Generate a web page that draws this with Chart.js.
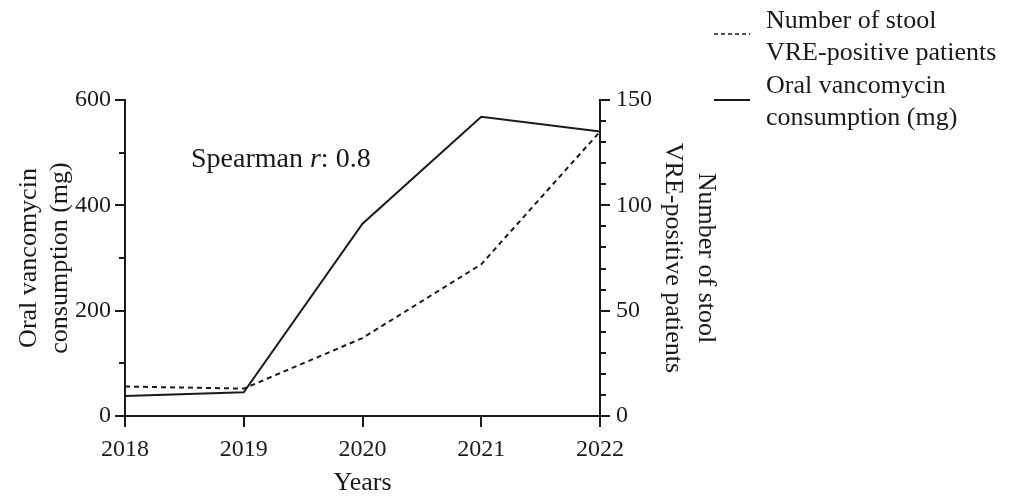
<!DOCTYPE html>
<html>
<head>
<meta charset="utf-8">
<script src="https://cdn.jsdelivr.net/npm/chart.js@4.4.1/dist/chart.umd.min.js"></script>
<style>
html,body{margin:0;padding:0;background:#fff;}
#wrap{width:1010px;height:498px;position:relative;}
</style>
</head>
<body>
<div id="wrap"><canvas id="c" width="1010" height="498"></canvas></div>
<script>
const years = ['2018', '2019', '2020', '2021', '2022'];
const vancomycinMg = [38, 45, 365, 568, 540];
const vrePatients = [14, 13, 37, 72, 135];
const leftTicks = [0, 200, 400, 600];
const rightTicks = [0, 50, 100, 150];
const leftMinorTicks = [100, 300, 500];
const rightMinorTicks = [10, 20, 30, 40, 60, 70, 80, 90, 110, 120, 130, 140];
const legendDashed = ['Number of stool', 'VRE-positive patients'];
const legendSolid = ['Oral vancomycin', 'consumption (mg)'];

const FONT = "'Liberation Serif', 'Times New Roman', serif";
const INK = '#1a1a1a';

const extras = {
  id: 'extras',
  afterDraw(chart) {
    const ctx = chart.ctx;
    const yl = chart.scales.yL, yr = chart.scales.yR;
    ctx.save();
    ctx.strokeStyle = INK;
    ctx.lineWidth = 2;
    leftMinorTicks.forEach(v => {
      const y = Math.round(yl.getPixelForValue(v));
      ctx.beginPath(); ctx.moveTo(yl.right - 6, y); ctx.lineTo(yl.right, y); ctx.stroke();
    });
    rightMinorTicks.forEach(v => {
      const y = Math.round(yr.getPixelForValue(v));
      ctx.beginPath(); ctx.moveTo(yr.left, y); ctx.lineTo(yr.left + 6, y); ctx.stroke();
    });
    // legend
    ctx.fillStyle = INK;
    ctx.font = '26px ' + FONT;
    ctx.textBaseline = 'alphabetic';
    ctx.textAlign = 'left';
    ctx.lineWidth = 1.5;
    ctx.setLineDash([4, 3]);
    ctx.beginPath(); ctx.moveTo(714, 34); ctx.lineTo(750, 34); ctx.stroke();
    ctx.setLineDash([]);
    ctx.lineWidth = 2;
    ctx.beginPath(); ctx.moveTo(714, 100); ctx.lineTo(750, 100); ctx.stroke();
    ctx.fillText(legendDashed[0], 766, 28);
    ctx.fillText(legendDashed[1], 766, 60);
    ctx.fillText(legendSolid[0], 766, 93);
    ctx.fillText(legendSolid[1], 766, 125);
    // Spearman annotation
    let x = 191;
    const by = 167;
    ctx.font = '28px ' + FONT;
    ctx.fillText('Spearman ', x, by);
    x += ctx.measureText('Spearman ').width;
    ctx.font = 'italic 28px ' + FONT;
    ctx.fillText('r', x, by);
    x += ctx.measureText('r').width;
    ctx.font = '28px ' + FONT;
    ctx.fillText(': 0.8', x, by);
    ctx.restore();
  }
};

new Chart(document.getElementById('c'), {
  type: 'line',
  data: {
    labels: years,
    datasets: [
      {
        label: 'Oral vancomycin consumption (mg)',
        data: vancomycinMg,
        yAxisID: 'yL',
        borderColor: INK,
        borderWidth: 2,
        pointRadius: 0,
        tension: 0,
        fill: false
      },
      {
        label: 'Number of stool VRE-positive patients',
        data: vrePatients,
        yAxisID: 'yR',
        borderColor: INK,
        borderWidth: 2,
        borderDash: [5, 4],
        pointRadius: 0,
        tension: 0,
        fill: false
      }
    ]
  },
  options: {
    responsive: false,
    animation: false,
    layout: { padding: { left: 0, right: 285, top: 100, bottom: 0 } },
    plugins: { legend: { display: false }, tooltip: { enabled: false } },
    scales: {
      x: {
        type: 'category',
        offset: false,
        grid: { drawOnChartArea: false, drawTicks: true, tickLength: 11, color: INK, lineWidth: 2 },
        border: { display: true, color: INK, width: 2 },
        ticks: { color: INK, font: { family: FONT, size: 24 }, padding: 8, maxRotation: 0, autoSkip: false },
        title: { display: true, text: 'Years', color: INK, font: { family: FONT, size: 26, lineHeight: 1 }, padding: { top: 0, bottom: 2 } },
        afterFit(s) { s.height = 82; }
      },
      yL: {
        position: 'left',
        min: 0, max: 600,
        afterBuildTicks(s) { s.ticks = leftTicks.map(v => ({ value: v })); },
        grid: { drawOnChartArea: false, drawTicks: true, tickLength: 10, color: INK, lineWidth: 2 },
        border: { display: true, color: INK, width: 2 },
        ticks: { color: INK, font: { family: FONT, size: 24 }, padding: 4 },
        title: { display: true, text: ['Oral vancomycin', 'consumption (mg)'], color: INK, font: { family: FONT, size: 26, lineHeight: 1.22 }, padding: { top: 13, bottom: 0 } },
        afterFit(s) { s.width = 125; }
      },
      yR: {
        position: 'right',
        min: 0, max: 150,
        afterBuildTicks(s) { s.ticks = rightTicks.map(v => ({ value: v })); },
        grid: { drawOnChartArea: false, drawTicks: true, tickLength: 10, color: INK, lineWidth: 2 },
        border: { display: true, color: INK, width: 2 },
        ticks: { color: INK, font: { family: FONT, size: 24 }, padding: 6 },
        title: { display: true, text: ['Number of stool', 'VRE-positive patients'], color: INK, font: { family: FONT, size: 26, lineHeight: 1.27 }, padding: { top: 3, bottom: 0 } },
        afterFit(s) { s.width = 125; }
      }
    }
  },
  plugins: [extras]
});
</script>
</body>
</html>
